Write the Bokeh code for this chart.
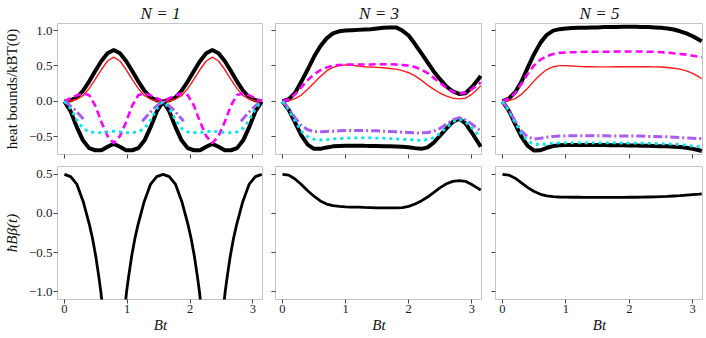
from bokeh.plotting import figure
from bokeh.layouts import row, column
from bokeh.models import Range1d, FixedTicker, CustomJSTickFormatter
from bokeh.embed import file_html
from bokeh.resources import INLINE

nan = float("nan")

# ---------------- data ----------------
panel_titles = ["N = 1", "N = 3", "N = 5"]
top_ylabel = "heat bounds/kBT(0)"
bottom_ylabel = "\u0127B\u03b2(t)"
xlabel = "Bt"
x_ticks = [0, 1, 2, 3]
top_y_ticks = [-0.5, 0.0, 0.5, 1.0]
bottom_y_ticks = [-1.0, -0.5, 0.0, 0.5]

# N = 1 (sampled at Bt = k*pi/32)
t_n1 = [0, 0.098, 0.196, 0.295, 0.393, 0.491, 0.589, 0.687, 0.785, 0.884, 0.982,
        1.080, 1.178, 1.276, 1.374, 1.473, 1.571, 1.669, 1.767, 1.865, 1.963, 2.062,
        2.160, 2.258, 2.356, 2.454, 2.553, 2.651, 2.749, 2.847, 2.945, 3.043, 3.142]
upper_n1 = [0, 0.015, 0.055, 0.15, 0.28, 0.43, 0.57, 0.68, 0.725, 0.68, 0.57, 0.43, 0.28, 0.15, 0.055, 0.015,
            0, 0.015, 0.055, 0.15, 0.28, 0.43, 0.57, 0.68, 0.725, 0.68, 0.57, 0.43, 0.28, 0.15, 0.055, 0.015, 0]
red_n1 = [0, 0.005, 0.03, 0.08, 0.18, 0.31, 0.45, 0.57, 0.625, 0.57, 0.45, 0.31, 0.18, 0.08, 0.03, 0.005,
          0, 0.005, 0.03, 0.08, 0.18, 0.31, 0.45, 0.57, 0.625, 0.57, 0.45, 0.31, 0.18, 0.08, 0.03, 0.005, 0]
magenta_n1 = [0, 0.045, 0.085, 0.11, 0.09, -0.06, -0.29, -0.49, -0.59, -0.49, -0.29, -0.06, 0.09, 0.11, 0.085, 0.045,
              0, 0.045, 0.085, 0.11, 0.09, -0.06, -0.29, -0.49, -0.59, -0.49, -0.29, -0.06, 0.09, 0.11, 0.085, 0.045, 0]
cyan_n1 = [0, -0.1, -0.26, -0.38, -0.43, -0.44, -0.44, -0.43, -0.42, -0.43, -0.44, -0.44, -0.43, -0.38, -0.26, -0.1,
           0, -0.1, -0.26, -0.38, -0.43, -0.44, -0.44, -0.43, -0.42, -0.43, -0.44, -0.44, -0.43, -0.38, -0.26, -0.1, 0]
lower_n1 = [0, -0.14, -0.36, -0.55, -0.66, -0.69, -0.69, -0.64, -0.60, -0.64, -0.69, -0.69, -0.66, -0.55, -0.36, -0.14,
            0, -0.14, -0.36, -0.55, -0.66, -0.69, -0.69, -0.64, -0.60, -0.64, -0.69, -0.69, -0.66, -0.55, -0.36, -0.14, 0]
t_purple_n1 = [0, 0.08, 0.16, 0.24, 0.33, nan, 1.24, 1.33, 1.41, 1.49, 1.571, 1.65, 1.73, 1.81, 1.90,
               nan, 2.81, 2.90, 2.98, 3.06, 3.142]
purple_n1 = [0, -0.05, -0.11, -0.19, -0.28, nan, -0.28, -0.19, -0.11, -0.05, 0, -0.05, -0.11, -0.19, -0.28,
             nan, -0.28, -0.19, -0.11, -0.05, 0]

t_beta_n1 = [0, 0.1, 0.2, 0.3, 0.35, 0.4, 0.45, 0.5, 0.55, 0.58, 0.62, nan,
             0.95, 0.99, 1.02, 1.07, 1.12, 1.17, 1.22, 1.27, 1.37, 1.47, 1.571, 1.67, 1.77, 1.87, 1.92,
             1.97, 2.02, 2.07, 2.12, 2.15, 2.19, nan,
             2.52, 2.56, 2.59, 2.64, 2.69, 2.74, 2.79, 2.84, 2.94, 3.04, 3.142]
beta_n1 = [0.5, 0.47, 0.37, 0.15, 0.0, -0.15, -0.33, -0.55, -0.82, -1.0, -1.3, nan,
           -1.3, -1.0, -0.82, -0.55, -0.33, -0.15, 0.0, 0.15, 0.37, 0.47, 0.5, 0.47, 0.37, 0.15, 0.0,
           -0.15, -0.33, -0.55, -0.82, -1.0, -1.3, nan,
           -1.3, -1.0, -0.82, -0.55, -0.33, -0.15, 0.0, 0.15, 0.37, 0.47, 0.5]

# N = 3 and N = 5 (sampled at Bt = 0, 0.1, ..., 3.1, pi)
t_grid = [0, 0.1, 0.2, 0.3, 0.4, 0.5, 0.6, 0.7, 0.8, 0.9, 1.0, 1.1, 1.2, 1.3, 1.4, 1.5, 1.6,
          1.7, 1.8, 1.9, 2.0, 2.1, 2.2, 2.3, 2.4, 2.5, 2.6, 2.7, 2.8, 2.9, 3.0, 3.1, 3.142]

upper_n3 = [0, 0.03, 0.12, 0.28, 0.45, 0.63, 0.78, 0.89, 0.96, 0.99, 1.0, 1.005, 1.01, 1.015, 1.02, 1.03, 1.04,
            1.045, 1.045, 1.0, 0.93, 0.81, 0.68, 0.55, 0.42, 0.31, 0.21, 0.14, 0.105, 0.115, 0.2, 0.31, 0.36]
magenta_n3 = [0, 0.03, 0.10, 0.2, 0.3, 0.38, 0.44, 0.48, 0.505, 0.515, 0.52, 0.52, 0.52, 0.52, 0.52, 0.525, 0.525,
              0.525, 0.52, 0.515, 0.505, 0.485, 0.45, 0.40, 0.33, 0.26, 0.19, 0.135, 0.11, 0.12, 0.17, 0.24, 0.27]
red_n3 = [0, 0.01, 0.04, 0.09, 0.17, 0.26, 0.35, 0.43, 0.48, 0.505, 0.515, 0.51, 0.50, 0.49, 0.485, 0.48, 0.475,
          0.465, 0.455, 0.435, 0.405, 0.36, 0.30, 0.23, 0.17, 0.115, 0.075, 0.045, 0.035, 0.045, 0.10, 0.18, 0.22]
purple_n3 = [0, -0.1, -0.23, -0.34, -0.40, -0.425, -0.43, -0.425, -0.42, -0.415, -0.41, -0.41, -0.41, -0.41,
             -0.415, -0.415, -0.42, -0.425, -0.43, -0.435, -0.44, -0.445, -0.445, -0.44, -0.42, -0.38, -0.32,
             -0.26, -0.23, -0.26, -0.32, -0.39, -0.42]
cyan_n3 = [0, -0.12, -0.28, -0.42, -0.50, -0.535, -0.545, -0.54, -0.53, -0.525, -0.52, -0.515, -0.515, -0.515,
           -0.515, -0.52, -0.52, -0.525, -0.53, -0.535, -0.54, -0.545, -0.55, -0.54, -0.51, -0.45, -0.37,
           -0.29, -0.25, -0.29, -0.37, -0.47, -0.51]
lower_n3 = [0, -0.12, -0.3, -0.48, -0.61, -0.67, -0.67, -0.65, -0.635, -0.63, -0.625, -0.625, -0.625, -0.628,
            -0.63, -0.63, -0.632, -0.635, -0.638, -0.642, -0.648, -0.66, -0.67, -0.65, -0.58, -0.48, -0.38,
            -0.29, -0.245, -0.31, -0.44, -0.58, -0.64]
beta_n3 = [0.5, 0.49, 0.44, 0.37, 0.29, 0.22, 0.16, 0.12, 0.1, 0.09, 0.085, 0.082, 0.08, 0.077, 0.075, 0.072,
           0.07, 0.07, 0.07, 0.075, 0.09, 0.12, 0.16, 0.21, 0.27, 0.33, 0.38, 0.41, 0.42, 0.41, 0.37, 0.32, 0.30]

upper_n5 = [0, 0.04, 0.13, 0.28, 0.48, 0.67, 0.83, 0.94, 1.0, 1.02, 1.03, 1.035, 1.04, 1.04, 1.045, 1.045, 1.05,
            1.05, 1.05, 1.055, 1.055, 1.055, 1.05, 1.05, 1.045, 1.04, 1.03, 1.015, 0.99, 0.96, 0.92, 0.87, 0.85]
magenta_n5 = [0, 0.04, 0.12, 0.25, 0.39, 0.51, 0.59, 0.64, 0.67, 0.685, 0.69, 0.695, 0.695, 0.70, 0.70, 0.70,
              0.70, 0.70, 0.705, 0.705, 0.705, 0.705, 0.705, 0.70, 0.70, 0.695, 0.69, 0.68, 0.67, 0.66, 0.645,
              0.63, 0.62]
red_n5 = [0, 0.01, 0.04, 0.1, 0.19, 0.29, 0.38, 0.45, 0.49, 0.505, 0.505, 0.50, 0.495, 0.49, 0.49, 0.488, 0.488,
          0.488, 0.49, 0.49, 0.49, 0.49, 0.49, 0.49, 0.488, 0.485, 0.478, 0.468, 0.455, 0.43, 0.395, 0.345, 0.32]
purple_n5 = [0, -0.12, -0.28, -0.42, -0.505, -0.53, -0.52, -0.505, -0.495, -0.49, -0.487, -0.486, -0.485,
             -0.485, -0.485, -0.486, -0.486, -0.487, -0.488, -0.489, -0.49, -0.49, -0.49, -0.495, -0.495, -0.5,
             -0.5, -0.505, -0.51, -0.515, -0.52, -0.525, -0.53]
cyan_n5 = [0, -0.13, -0.30, -0.46, -0.56, -0.605, -0.61, -0.60, -0.59, -0.587, -0.585, -0.585, -0.585, -0.585,
           -0.585, -0.585, -0.585, -0.586, -0.587, -0.588, -0.589, -0.59, -0.59, -0.592, -0.595, -0.597, -0.60,
           -0.605, -0.61, -0.62, -0.63, -0.64, -0.645]
lower_n5 = [0, -0.13, -0.32, -0.5, -0.63, -0.695, -0.69, -0.655, -0.63, -0.62, -0.615, -0.615, -0.615, -0.615,
            -0.615, -0.616, -0.617, -0.618, -0.62, -0.621, -0.622, -0.623, -0.625, -0.627, -0.63, -0.632, -0.635,
            -0.64, -0.645, -0.655, -0.67, -0.69, -0.70]
beta_n5 = [0.5, 0.49, 0.45, 0.39, 0.33, 0.28, 0.245, 0.225, 0.215, 0.21, 0.208, 0.207, 0.207, 0.206, 0.206,
           0.206, 0.206, 0.206, 0.206, 0.206, 0.207, 0.207, 0.208, 0.21, 0.212, 0.215, 0.218, 0.223, 0.228, 0.234,
           0.24, 0.246, 0.25]

top_series = [
    dict(t=t_n1, upper=upper_n1, red=red_n1, magenta=magenta_n1, cyan=cyan_n1, lower=lower_n1,
         tp=t_purple_n1, purple=purple_n1),
    dict(t=t_grid, upper=upper_n3, red=red_n3, magenta=magenta_n3, cyan=cyan_n3, lower=lower_n3,
         tp=t_grid, purple=purple_n3),
    dict(t=t_grid, upper=upper_n5, red=red_n5, magenta=magenta_n5, cyan=cyan_n5, lower=lower_n5,
         tp=t_grid, purple=purple_n5),
]
bottom_series = [(t_beta_n1, beta_n1), (t_grid, beta_n3), (t_grid, beta_n5)]

# ---------------- styling / layout ----------------
SERIF = "Liberation Serif"
FRAME_W = [210, 207, 208]
LEFT_B = [53, 12, 13]
TOP_B, TOP_FRAME, TOP_BOT = 21, 133, 5
BOT_T, BOT_FRAME, BOT_B = 7, 133, 38

fmt_y = CustomJSTickFormatter(code="""
  const s = Math.abs(tick).toFixed(1);
  return tick < -1e-9 ? "\\u2212" + s : s;
""")
fmt_x = CustomJSTickFormatter(code="return tick.toFixed(0);")
fmt_none = CustomJSTickFormatter(code="return '';")


def make_fig(col, r):
    left = LEFT_B[col]
    top, fh, bottom = (TOP_B, TOP_FRAME, TOP_BOT) if r == 0 else (BOT_T, BOT_FRAME, BOT_B)
    p = figure(width=left + FRAME_W[col], height=top + fh + bottom,
               output_backend="svg", toolbar_location=None,
               x_range=Range1d(-0.11, 3.17),
               y_range=Range1d(-0.75, 1.10) if r == 0 else Range1d(-1.10, 0.60),
               min_border_left=left, min_border_right=0,
               min_border_top=top, min_border_bottom=bottom)
    p.background_fill_color = "white"
    p.border_fill_color = "white"
    p.outline_line_color = "#c4c4c4"
    p.outline_line_width = 1
    p.xgrid.visible = False
    p.ygrid.visible = False
    for ax in (p.xaxis[0], p.yaxis[0]):
        ax.axis_line_color = None
        ax.major_tick_line_color = "#444444"
        ax.major_tick_line_width = 1
        ax.major_tick_out = 4
        ax.major_tick_in = 0
        ax.minor_tick_line_color = None
        ax.major_label_text_font = SERIF
        ax.major_label_text_font_size = "13px"
        ax.major_label_text_color = "#1a1a1a"
        ax.major_label_standoff = 1
        ax.axis_label_text_font = SERIF
        ax.axis_label_text_font_size = "15px"
        ax.axis_label_text_color = "#111111"
        ax.axis_label_text_font_style = "normal"
    p.xaxis.major_label_text_font_size = "12.5px"
    p.xaxis.ticker = FixedTicker(ticks=x_ticks)
    p.yaxis.ticker = FixedTicker(ticks=top_y_ticks if r == 0 else bottom_y_ticks)
    if r == 1:
        p.xaxis.formatter = fmt_x
        p.xaxis.axis_label = xlabel
        p.xaxis.axis_label_text_font_style = "italic"
        p.xaxis.axis_label_standoff = 1
    else:
        p.xaxis.formatter = fmt_none
        p.xaxis.major_label_text_font_size = "0px"
        p.xaxis.major_label_standoff = 0
        p.title.text = panel_titles[col]
        p.title.align = "center"
        p.title.text_font = SERIF
        p.title.text_font_size = "17px"
        p.title.text_font_style = "italic"
        p.title.text_color = "#111111"
        p.title.standoff = 2
    if col == 0:
        p.yaxis.formatter = fmt_y
        p.yaxis.axis_label = top_ylabel if r == 0 else bottom_ylabel
        p.yaxis.axis_label_standoff = 6
        if r == 1:
            p.yaxis.axis_label_text_font_style = "italic"
    else:
        p.yaxis.formatter = fmt_none
        p.yaxis.major_label_text_font_size = "0px"
        p.yaxis.major_label_standoff = 0
    return p


top_figs, bottom_figs = [], []
for c in range(3):
    s = top_series[c]
    p = make_fig(c, 0)
    p.line(s["t"], s["upper"], line_color="black", line_width=4.0)
    p.line(s["t"], s["lower"], line_color="black", line_width=4.0)
    p.line(s["t"], s["red"], line_color="#ff1a1a", line_width=1.4)
    p.line(s["t"], s["magenta"], line_color="#ff00ff", line_width=2.6, line_dash="7 4")
    p.line(s["tp"], s["purple"], line_color="#a95cf2", line_width=3.0, line_dash="9 3 2 3")
    p.line(s["t"], s["cyan"], line_color="#00e5ee", line_width=2.8, line_dash="3 4")
    top_figs.append(p)

    tb, vb = bottom_series[c]
    q = make_fig(c, 1)
    q.line(tb, vb, line_color="black", line_width=2.8)
    bottom_figs.append(q)

layout = column(row(*top_figs), row(*bottom_figs))

open("out.html", "w").write(file_html(layout, INLINE))
